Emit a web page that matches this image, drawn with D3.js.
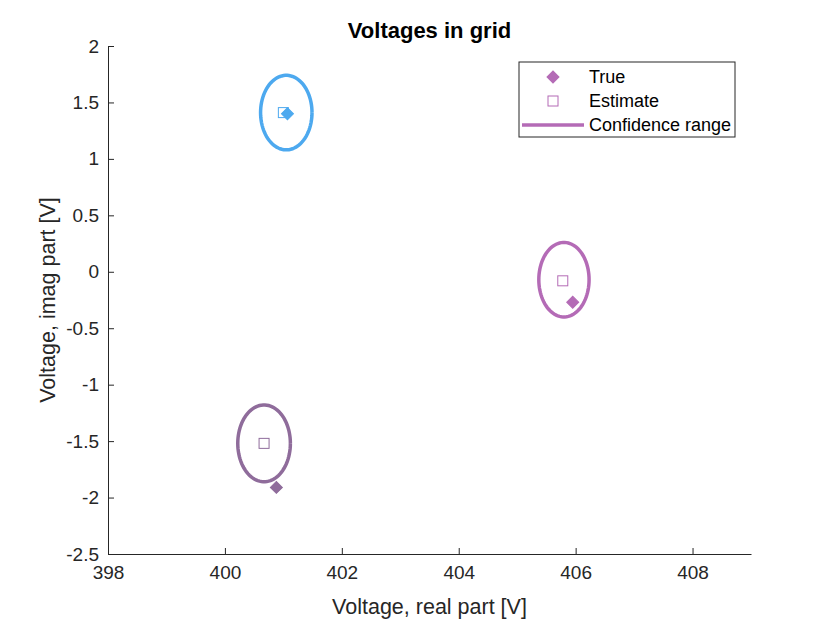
<!DOCTYPE html>
<html>
<head>
<meta charset="utf-8">
<script src="https://cdn.jsdelivr.net/npm/d3@7"></script>
<style>
  body { margin: 0; background: #fff; }
  text { font-family: "Liberation Sans", Arial, sans-serif; fill: #262626; }
</style>
</head>
<body>
<script>
// data
const nodes = ["A", "B", "C"];
const colors = ["#4da9ef", "#b46bb6", "#8f6c9b"];
const trueRe = [401.07, 405.95, 400.88];
const trueIm = [1.40, -0.27, -1.91];
const estRe = [401.0, 405.78, 400.67];
const estIm = [1.41, -0.08, -1.52];
const ellRe = [401.05, 405.8, 400.67];
const ellIm = [1.41, -0.07, -1.52];
const ellRx = [0.44, 0.43, 0.45];
const ellRy = [0.33, 0.33, 0.34];
const xTicks = [398, 400, 402, 404, 406, 408];
const yTicks = [2, 1.5, 1, 0.5, 0, -0.5, -1, -1.5, -2, -2.5];
const legendLabels = ["True", "Estimate", "Confidence range"];

const W = 830, H = 623;
const margin = { top: 46, right: 79, bottom: 69, left: 108 };

const svg = d3.select("body").append("svg")
    .attr("width", W)
    .attr("height", H);

const x = d3.scaleLinear().domain([398, 409]).range([margin.left, W - margin.right]);
const y = d3.scaleLinear().domain([-2.5, 2]).range([H - margin.bottom, margin.top]);

// axes (MATLAB style: ticks inward, no box)
const xAxis = svg.append("g")
    .attr("transform", `translate(0,${H - margin.bottom})`)
    .call(d3.axisBottom(x).tickValues(xTicks).tickSizeInner(-6).tickSizeOuter(0).tickPadding(12).tickFormat(d3.format("d")));
const yAxis = svg.append("g")
    .attr("transform", `translate(${margin.left},0)`)
    .call(d3.axisLeft(y).tickValues(yTicks).tickSizeInner(-6).tickSizeOuter(0).tickPadding(9).tickFormat(d => String(d)));

[xAxis, yAxis].forEach(g => {
    g.select(".domain").attr("stroke", "#262626").attr("stroke-width", 1);
    g.selectAll(".tick line").attr("stroke", "#262626");
    g.selectAll(".tick text").style("font-size", "19px").style("fill", "#262626");
});

// axis labels and title
svg.append("text")
    .attr("x", (x(398) + x(409)) / 2)
    .attr("y", 614)
    .attr("text-anchor", "middle")
    .style("font-size", "21.5px")
    .text("Voltage, real part [V]");

svg.append("text")
    .attr("transform", `translate(55,${(y(-2.5) + y(2)) / 2}) rotate(-90)`)
    .attr("text-anchor", "middle")
    .style("font-size", "21.5px")
    .text("Voltage, imag part [V]");

svg.append("text")
    .attr("x", (x(398) + x(409)) / 2)
    .attr("y", 38)
    .attr("text-anchor", "middle")
    .style("font-size", "22px")
    .attr("font-weight", "bold")
    .style("fill", "#000")
    .text("Voltages in grid");

// confidence ellipses
const angles = d3.range(0, 361, 4).map(a => a * Math.PI / 180);
const line = d3.line().x(d => x(d[0])).y(d => y(d[1]));

svg.append("g").selectAll("path")
    .data(nodes)
    .join("path")
    .attr("d", (d, i) => line(angles.map(t => [ellRe[i] + ellRx[i] * Math.cos(t), ellIm[i] + ellRy[i] * Math.sin(t)])))
    .attr("fill", "none")
    .attr("stroke", (d, i) => colors[i])
    .attr("stroke-width", 3.5);

// estimates (squares)
const sq = 10;
svg.append("g").selectAll("rect")
    .data(nodes)
    .join("rect")
    .attr("x", (d, i) => x(estRe[i]) - sq / 2)
    .attr("y", (d, i) => y(estIm[i]) - sq / 2)
    .attr("width", sq)
    .attr("height", sq)
    .attr("fill", "none")
    .attr("stroke", (d, i) => colors[i])
    .attr("stroke-width", 1);

// true values (diamonds)
const diamond = d3.symbol().type(d3.symbolSquare).size(72);
svg.append("g").selectAll("path")
    .data(nodes)
    .join("path")
    .attr("d", diamond)
    .attr("transform", (d, i) => `translate(${x(trueRe[i])},${y(trueIm[i])}) rotate(45)`)
    .attr("fill", (d, i) => colors[i])
    .attr("stroke", (d, i) => colors[i])
    .attr("stroke-width", 1);

// legend
const legend = svg.append("g").attr("transform", "translate(519,62)");
legend.append("rect")
    .attr("width", 216)
    .attr("height", 75)
    .attr("fill", "#fff")
    .attr("stroke", "#262626")
    .attr("stroke-width", 1);

const lc = colors[1];
legend.append("path")
    .attr("d", diamond)
    .attr("transform", "translate(34,15) rotate(45)")
    .attr("fill", lc)
    .attr("stroke", lc);
legend.append("rect")
    .attr("x", 29).attr("y", 34).attr("width", sq).attr("height", sq)
    .attr("fill", "none").attr("stroke", lc);
legend.append("line")
    .attr("x1", 3).attr("x2", 65).attr("y1", 63).attr("y2", 63)
    .attr("stroke", lc).attr("stroke-width", 3.5);

legend.selectAll("text.lbl")
    .data(legendLabels)
    .join("text")
    .attr("class", "lbl")
    .attr("x", 70)
    .attr("y", (d, i) => 21 + i * 24)
    .style("font-size", "18px")
    .style("fill", "#000")
    .text(d => d);
</script>
</body>
</html>
